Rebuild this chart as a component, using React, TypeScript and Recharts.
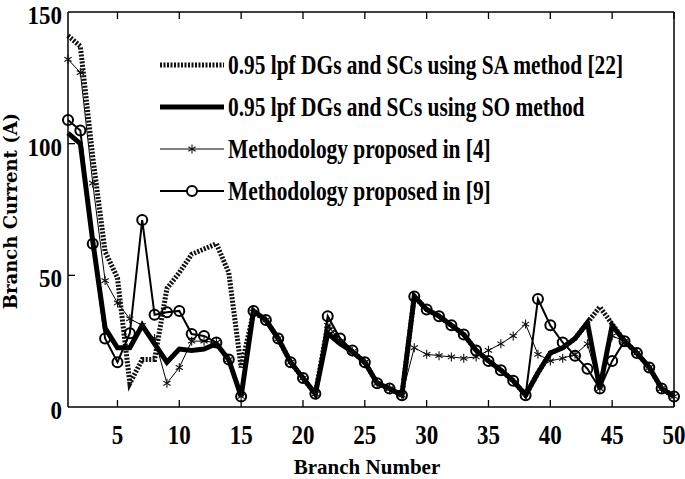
import { LineChart, Line, XAxis, YAxis } from 'recharts'

const branches = Array.from({ length: 50 }, (_, i) => i + 1)

// 0.95 lpf DGs and SCs using SA method [22]
const saValues = [
  141, 137, 95, 59, 49, 9, 18, 18, 45, 51, 58, 60, 62, 51, 15, 36, 33, 26, 17, 11,
  5, 31, 25, 21, 17, 9, 7, 4.5, 42, 37, 34.5, 31, 27.5, 21.5, 17.5, 14, 10, 4.5, 13, 20.5,
  22.5, 26, 32, 38, 31.5, 25, 20.5, 15, 7, 4,
]
// 0.95 lpf DGs and SCs using SO method
const soValues = [
  104, 100, 63, 30, 22.5, 22.5, 31, 24, 17, 22, 21.5, 22, 24, 18, 4, 36.5, 33, 26, 17, 11,
  5, 28, 24, 21, 17, 9, 7, 4.5, 42, 37, 34.5, 31, 27.5, 21.5, 17.5, 14, 10, 4.5, 13, 20.5,
  22.5, 26, 32, 7, 31, 25, 20.5, 15, 7, 4,
]
// Methodology proposed in [4]
const m4Values = [
  132, 127, 85, 48, 39.5, 33.5, 31, 26, 9, 15, 25, 25, 24.5, 18, 4, 36, 33, 26, 17, 11,
  5, 31, 25, 21, 17, 9, 7, 4.5, 22.5, 20, 19.5, 19, 18.5, 19, 21.5, 24, 27, 31.5, 20, 17.5,
  18.5, 20, 24, 7, 27, 25, 20.5, 15, 7, 4,
]
// Methodology proposed in [9]
const m9Values = [
  109, 105, 62, 26, 17, 28, 71, 35, 36, 36.5, 27.7, 27, 24.5, 18, 4, 36.5, 33, 26, 17, 11,
  5, 34.5, 26, 21.5, 17, 9, 7, 4.5, 42, 37, 34.5, 31, 27.5, 21.5, 17.5, 14, 10, 4.5, 41, 31,
  24.5, 19.5, 14.5, 7, 17.5, 25, 20.5, 15, 7, 4,
]

const xTicks = [5, 10, 15, 20, 25, 30, 35, 40, 45, 50]
const yTicks = [0, 50, 100, 150]

const legendLabels = [
  '0.95 lpf DGs and SCs using SA method [22]',
  '0.95 lpf DGs and SCs using SO method',
  'Methodology proposed in [4]',
  'Methodology proposed in [9]',
]

const data = branches.map((b, i) => ({
  x: b,
  sa: saValues[i],
  so: soValues[i],
  m4: m4Values[i],
  m9: m9Values[i],
}))

const FONT = '"Liberation Serif", "Times New Roman", serif'
const TICK_LEN = 7

function BottomTick({ x, y, payload }: any) {
  return (
    <g>
      <line x1={x} x2={x} y1={y} y2={y - TICK_LEN} stroke="#000" strokeWidth={1.3} />
      <text
        transform={`translate(${x},${y + 37}) scale(1,1.15)`}
        textAnchor="middle"
        fontFamily={FONT}
        fontWeight="bold"
        fontSize={23}
        fill="#000"
      >
        {payload.value}
      </text>
    </g>
  )
}

function TopTick({ x, y }: any) {
  return <line x1={x} x2={x} y1={y} y2={y + TICK_LEN} stroke="#000" strokeWidth={1.3} />
}

function LeftTick({ x, y, payload }: any) {
  return (
    <g>
      {payload.value !== 0 && payload.value !== 150 && (
        <line x1={x} x2={x + TICK_LEN} y1={y} y2={y} stroke="#000" strokeWidth={1.3} />
      )}
      <text
        transform={`translate(${x - 6},${y + 12}) scale(1,1.12)`}
        textAnchor="end"
        fontFamily={FONT}
        fontWeight="bold"
        fontSize={23}
        fill="#000"
      >
        {payload.value}
      </text>
    </g>
  )
}

function RightTick({ x, y, payload }: any) {
  if (payload.value === 0 || payload.value === 150) return <g />
  return <line x1={x} x2={x - TICK_LEN} y1={y} y2={y} stroke="#000" strokeWidth={1.3} />
}

function Star({ cx, cy, size = 4.5 }: { cx: number; cy: number; size?: number }) {
  const d = size * 0.8
  return (
    <g stroke="#111" strokeWidth={1.1}>
      <line x1={cx} x2={cx} y1={cy - size} y2={cy + size} />
      <line x1={cx - d} x2={cx + d} y1={cy - d * 0.6} y2={cy + d * 0.6} />
      <line x1={cx - d} x2={cx + d} y1={cy + d * 0.6} y2={cy - d * 0.6} />
    </g>
  )
}

function LegendBox() {
  const rows = [65, 107, 149, 191]
  const x0 = 160
  const x1 = 224
  return (
    <svg
      width={685}
      height={479}
      style={{ position: 'absolute', left: 0, top: 0, pointerEvents: 'none' }}
    >
      <line x1={x0} x2={x1} y1={rows[0]} y2={rows[0]} stroke="#111" strokeWidth={5} strokeDasharray="2 1.5" />
      <line x1={x0} x2={x1} y1={rows[1]} y2={rows[1]} stroke="#000" strokeWidth={5} />
      <line x1={x0} x2={x1} y1={rows[2]} y2={rows[2]} stroke="#000" strokeWidth={1} />
      <Star cx={(x0 + x1) / 2} cy={rows[2]} />
      <line x1={x0} x2={x1} y1={rows[3]} y2={rows[3]} stroke="#000" strokeWidth={2} />
      <circle cx={(x0 + x1) / 2} cy={rows[3]} r={5} fill="#fff" stroke="#000" strokeWidth={2} />
      {legendLabels.map((label, i) => (
        <text
          key={label}
          transform={`translate(228,${rows[i] + 9}) scale(1,1.3)`}
          fontFamily={FONT}
          fontWeight="bold"
          fontSize={21.4}
          fill="#000"
        >
          {label}
        </text>
      ))}
    </svg>
  )
}

export default function App() {
  return (
    <div style={{ position: 'absolute', left: 0, top: 0, width: 685, height: 479, background: '#fff' }}>
      <LineChart width={685} height={479} data={data} margin={{ top: 11, right: 10, bottom: 42, left: 8 }}>
        <XAxis
          dataKey="x"
          type="number"
          domain={[1, 50]}
          ticks={xTicks}
          tickLine={false}
          tickSize={0}
          tickMargin={0}
          height={30}
          tick={<BottomTick />}
          axisLine={{ stroke: '#000', strokeWidth: 1.5 }}
        />
        <XAxis
          xAxisId="top"
          orientation="top"
          dataKey="x"
          type="number"
          domain={[1, 50]}
          ticks={xTicks}
          tickLine={false}
          tickSize={0}
          tickMargin={0}
          height={1}
          tick={<TopTick />}
          axisLine={{ stroke: '#000', strokeWidth: 1.5 }}
        />
        <YAxis
          type="number"
          domain={[0, 150]}
          ticks={yTicks}
          tickLine={false}
          tickSize={0}
          tickMargin={0}
          width={60}
          tick={<LeftTick />}
          axisLine={{ stroke: '#000', strokeWidth: 1.5 }}
        />
        <YAxis
          yAxisId="right"
          orientation="right"
          type="number"
          domain={[0, 150]}
          ticks={yTicks}
          tickLine={false}
          tickSize={0}
          tickMargin={0}
          width={1}
          tick={<RightTick />}
          axisLine={{ stroke: '#000', strokeWidth: 1.5 }}
        />
        <Line
          dataKey="sa"
          type="linear"
          stroke="#111"
          strokeWidth={5}
          strokeDasharray="2 1.5"
          dot={false}
          isAnimationActive={false}
        />
        <Line dataKey="so" type="linear" stroke="#000" strokeWidth={5} dot={false} isAnimationActive={false} />
        <Line
          dataKey="m4"
          type="linear"
          stroke="#000"
          strokeWidth={1}
          dot={(p: any) => <Star key={`s${p.index}`} cx={p.cx} cy={p.cy} />}
          isAnimationActive={false}
        />
        <Line
          dataKey="m9"
          type="linear"
          stroke="#000"
          strokeWidth={2}
          dot={(p: any) => (
            <circle key={`c${p.index}`} cx={p.cx} cy={p.cy} r={5} fill="none" stroke="#000" strokeWidth={2} />
          )}
          isAnimationActive={false}
        />
        <text
          x={367}
          y={474}
          textAnchor="middle"
          fontFamily={FONT}
          fontWeight="bold"
          fontSize={21}
          fill="#000"
        >
          Branch Number
        </text>
        <text
          transform="translate(17,211) rotate(-90)"
          textAnchor="middle"
          fontFamily='"DejaVu Serif", serif'
          fontWeight="bold"
          fontSize={18}
          fill="#000"
        >
          Branch Current (A)
        </text>
      </LineChart>
      <LegendBox />
    </div>
  )
}
